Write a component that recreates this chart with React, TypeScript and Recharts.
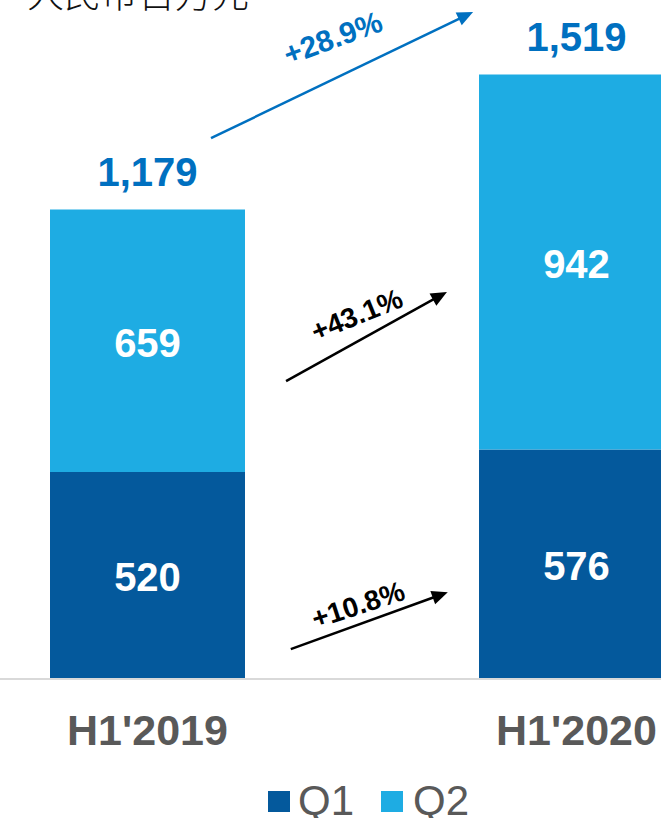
import React from 'react';
import {
  BarChart,
  Bar,
  XAxis,
  YAxis,
  LabelList,
  Legend,
  ReferenceLine,
  ReferenceDot,
  Customized,
} from 'recharts';

// ---------- data ----------
const categories = ["H1'2019", "H1'2020"];
const q1Values = [520, 576];
const q2Values = [659, 942];
const totalValues = [1179, 1519];
const seriesNames = ['Q1', 'Q2'];
const unitTitle = '人民币百万元';

// growth annotations (data units: x as fraction 0..1 of the category span, y in value units)
const growthLabels = ['+28.9%', '+43.1%', '+10.8%'];
const arrowFromX = [0.324, 0.4115, 0.417];
const arrowFromY = [1358, 748, 75];
const arrowToX = [0.6295, 0.599, 0.6];
const arrowToY = [1675, 972, 218];
const growthLabelX = [0.466, 0.494, 0.4955];
const growthLabelY = [1610, 914, 186];

// ---------- styles ----------
const FONT = '"Liberation Sans", Arial, Helvetica, sans-serif';
const Q1_COLOR = '#04599C';
const Q2_COLOR = '#1EACE3';
const BLUE_TEXT = '#0070C0';
const GRAY_TEXT = '#595959';
const growthColors = [BLUE_TEXT, '#000000', '#000000'];
const growthAngles = [-20, -22, -18];
const growthSizes = [30, 28, 28];

const data = categories.map((c, i) => ({
  name: c,
  q1: q1Values[i],
  q2: q2Values[i],
  total: totalValues[i],
}));

const SegmentLabel = (props: any) => {
  const { x, y, width, height, value } = props;
  const cx = Number(x) + Number(width) / 2;
  const cy = Number(y) + Number(height) / 2;
  return (
    <text
      x={cx}
      y={cy + 16}
      textAnchor="middle"
      fill="#FFFFFF"
      fontSize={40}
      fontWeight="bold"
      fontFamily={FONT}
    >
      {value}
    </text>
  );
};

const TotalLabel = (props: any) => {
  const { x, y, width, value } = props;
  const cx = Number(x) + Number(width) / 2;
  return (
    <text
      x={cx}
      y={Number(y) - 23}
      textAnchor="middle"
      fill={BLUE_TEXT}
      fontSize={40}
      fontWeight="bold"
      fontFamily={FONT}
    >
      {Number(value).toLocaleString('en-US')}
    </text>
  );
};

const CategoryTick = (props: any) => {
  const { x, y, payload } = props;
  return (
    <text
      x={x}
      y={Number(y) + 66}
      textAnchor="middle"
      fill={GRAY_TEXT}
      fontSize={43}
      fontWeight="bold"
      fontFamily={FONT}
    >
      {payload.value}
    </text>
  );
};

const makeArrow = (color: string) => (props: any) => {
  const x1 = Number(props.x1);
  const y1 = Number(props.y1);
  const x2 = Number(props.x2);
  const y2 = Number(props.y2);
  const dx = x2 - x1;
  const dy = y2 - y1;
  const len = Math.hypot(dx, dy) || 1;
  const ux = dx / len;
  const uy = dy / len;
  const hl = 16;
  const hw = 7;
  const bx = x2 - ux * hl;
  const by = y2 - uy * hl;
  const pts = `${x2},${y2} ${bx - uy * hw},${by + ux * hw} ${bx + uy * hw},${by - ux * hw}`;
  return (
    <g>
      <line x1={x1} y1={y1} x2={bx + ux * 2} y2={by + uy * 2} stroke={color} strokeWidth={2.5} />
      <polygon points={pts} fill={color} />
    </g>
  );
};

const makeGrowthText = (text: string, color: string, angle: number, size: number) => (props: any) => {
  const cx = Number(props.cx);
  const cy = Number(props.cy);
  return (
    <text
      x={cx}
      y={cy}
      transform={`rotate(${angle}, ${cx}, ${cy})`}
      textAnchor="middle"
      dominantBaseline="central"
      fill={color}
      fontSize={size}
      fontWeight="bold"
      fontFamily={FONT}
    >
      {text}
    </text>
  );
};

const TitleText = () => (
  <text
    x={94}
    y={8}
    fill="#111111"
    fontSize={37}
    fontWeight={300}
    fontFamily='"Noto Sans CJK SC", sans-serif'
  >
    {unitTitle}
  </text>
);

const LegendContent = () => {
  const colors = [Q1_COLOR, Q2_COLOR];
  return (
    <div
      style={{
        display: 'flex',
        alignItems: 'center',
        fontFamily: FONT,
        fontSize: 42,
        lineHeight: '42px',
        color: GRAY_TEXT,
        whiteSpace: 'nowrap',
      }}
    >
      {seriesNames.map((n, i) => (
        <div
          key={n}
          style={{ display: 'flex', alignItems: 'center', marginRight: i === 0 ? 27 : 0 }}
        >
          <span
            style={{
              display: 'inline-block',
              width: 22,
              height: 21,
              background: colors[i],
              marginRight: i === 0 ? 8 : 10,
            }}
          />
          <span>{n}</span>
        </div>
      ))}
    </div>
  );
};

export default function App() {
  return (
    <div
      style={{
        position: 'absolute',
        left: 0,
        top: 0,
        width: 661,
        height: 818,
        overflow: 'hidden',
        background: '#FFFFFF',
      }}
    >
      <div style={{ position: 'absolute', left: -67, top: 0 }}>
        <BarChart
          width={858}
          height={818}
          data={data}
          margin={{ top: 2, right: 0, bottom: 59, left: 0 }}
        >
          <XAxis
            dataKey="name"
            height={80}
            axisLine={{ stroke: '#D9D9D9', strokeWidth: 2 }}
            tickLine={false}
            tickSize={0}
            tickMargin={0}
            tick={<CategoryTick />}
            interval={0}
          />
          <XAxis xAxisId="num" type="number" domain={[0, 1]} hide allowDataOverflow />
          <YAxis hide domain={[0, 1700]} allowDataOverflow />
          <Customized component={TitleText} />
          <Legend
            layout="horizontal"
            verticalAlign="middle"
            align="center"
            wrapperStyle={{ top: 780, left: 335, width: 'auto', height: 'auto' }}
            content={<LegendContent />}
          />
          <Bar
            dataKey="q1"
            name={seriesNames[0]}
            stackId="a"
            fill={Q1_COLOR}
            barSize={195}
            isAnimationActive={false}
          >
            <LabelList dataKey="q1" content={<SegmentLabel />} />
          </Bar>
          <Bar
            dataKey="q2"
            name={seriesNames[1]}
            stackId="a"
            fill={Q2_COLOR}
            barSize={195}
            isAnimationActive={false}
          >
            <LabelList dataKey="q2" content={<SegmentLabel />} />
            <LabelList dataKey="total" content={<TotalLabel />} />
          </Bar>
          {growthLabels.map((lbl, i) => (
            <ReferenceLine
              key={`arrow-${lbl}`}
              xAxisId="num"
              segment={[
                { x: arrowFromX[i], y: arrowFromY[i] },
                { x: arrowToX[i], y: arrowToY[i] },
              ]}
              ifOverflow="visible"
              shape={makeArrow(growthColors[i])}
            />
          ))}
          {growthLabels.map((lbl, i) => (
            <ReferenceDot
              key={`label-${lbl}`}
              xAxisId="num"
              x={growthLabelX[i]}
              y={growthLabelY[i]}
              ifOverflow="visible"
              shape={makeGrowthText(lbl, growthColors[i], growthAngles[i], growthSizes[i])}
            />
          ))}
        </BarChart>
      </div>
    </div>
  );
}
